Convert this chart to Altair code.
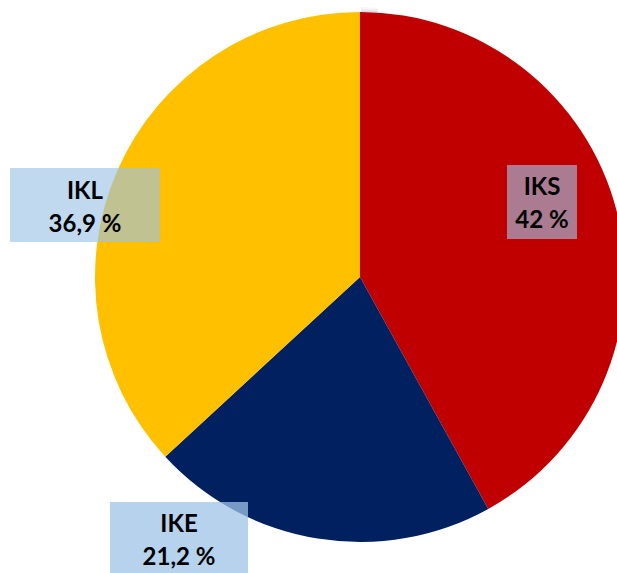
import altair as alt
import pandas as pd

categories = ["IKS", "IKE", "IKL"]
values = [42.0, 21.2, 36.9]
value_labels = ["42 %", "21,2 %", "36,9 %"]
colors = ["#C00000", "#002060", "#FFC000"]

df = pd.DataFrame({
    "cat": categories,
    "value": values,
    "order": list(range(len(categories))),
    "label": [f"{c}\n{v}" for c, v in zip(categories, value_labels)],
})

CX, CY, R = 360, 277, 265

base = alt.Chart(df)

shadow = alt.layer(*[
    alt.Chart(pd.DataFrame({"v": [1]})).mark_arc(color="#000000", opacity=op).encode(
        theta=alt.Theta("v:Q"), x=alt.value(CX + 1), y=alt.value(CY + 1), radius=alt.value(R + dr)
    )
    for dr, op in [(6, 0.03), (4, 0.05), (2, 0.07)]
])

pie = base.mark_arc(stroke=None).encode(
    theta=alt.Theta("value:Q", stack=True),
    color=alt.Color("cat:N", scale=alt.Scale(domain=categories, range=colors), legend=None),
    order=alt.Order("order:Q"),
    x=alt.value(CX),
    y=alt.value(CY),
    radius=alt.value(R),
)

boxes = {
    "IKS": dict(x=507, x2=577, y=165, y2=239, op=0.63, tx=542, ty=195),
    "IKL": dict(x=10, x2=160, y=168, y2=242, op=0.63, tx=85, ty=199),
    "IKE": dict(x=110, x2=248, y=502, y2=580, op=0.75, tx=179, ty=532),
}

layers = [shadow, pie]
for cat, b in boxes.items():
    sub = base.transform_filter(alt.datum.cat == cat)
    layers.append(sub.mark_rect(color="#9DC3E6", opacity=b["op"]).encode(
        x=alt.value(b["x"]), x2=alt.value(b["x2"]), y=alt.value(b["y"]), y2=alt.value(b["y2"])
    ))
    layers.append(sub.mark_text(
        font="Lato", fontWeight="bold", fontSize=24, color="#000000",
        lineBreak="\n", lineHeight=33, align="center", baseline="alphabetic"
    ).encode(text="label:N", x=alt.value(b["tx"]), y=alt.value(b["ty"])))

chart = alt.layer(*layers).properties(
    width=617, height=573, autosize=alt.AutoSizeParams(type="none"), padding=0,
    background="white"
).configure_view(stroke=None)

chart.save("out.html", embed_options={"renderer": "svg", "actions": False})
